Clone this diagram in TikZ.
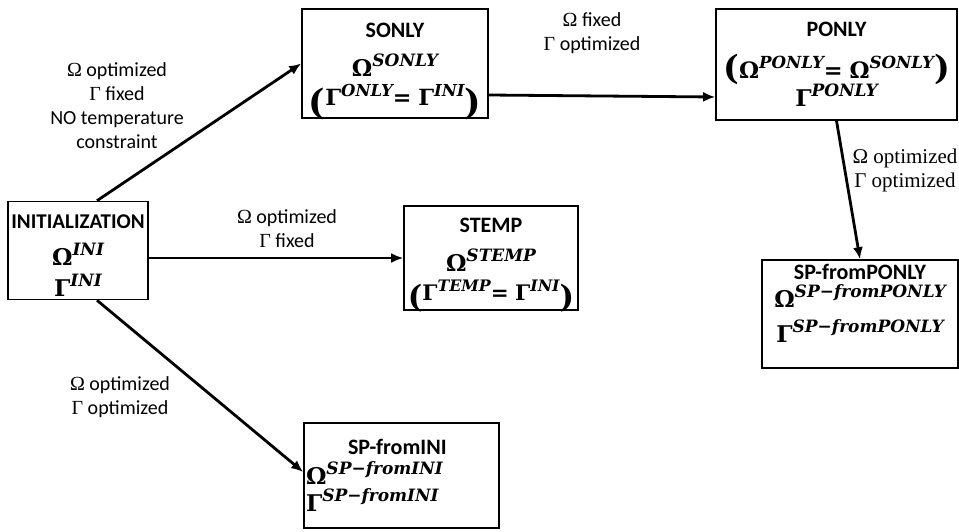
\documentclass[tikz,border=0pt]{standalone}
\usepackage{fontspec}
\setmainfont{Carlito}
\newfontfamily\symfont{Liberation Serif}
\newfontfamily\eqfont{DejaVu Serif}
\usetikzlibrary{arrows.meta,positioning,calc}
\usepackage{xcolor}
\definecolor{dark}{HTML}{000000}
\newcommand\gsym[2]{{\fontsize{23}{23}\selectfont\eqfont\bfseries #1}\raisebox{10pt}{\fontsize{17}{17}\selectfont\eqfont\bfseries\itshape #2}}
\newcommand\eqsym{{\fontsize{23}{23}\selectfont\eqfont\bfseries=\hspace{7pt}}}
\newcommand\paren[3]{\raisebox{-#2}[0pt][0pt]{\fontsize{#1}{#1}\selectfont\eqfont(}#3\raisebox{-#2}[0pt][0pt]{\fontsize{#1}{#1}\selectfont\eqfont)}}
\newcommand\upstrut[1]{\rule{0pt}{#1}}
\newcommand\downstrut[1]{\rule[-#1]{0pt}{#1}}
\tikzset{
  box/.style={draw=dark, line width=1.6pt, align=center, inner sep=0pt, font=\fontsize{22}{31}\selectfont\bfseries},
  lbl/.style={align=center, font=\fontsize{20}{24}\selectfont},
  arrow/.style={-{Latex[length=12pt,width=10pt]}, line width=2.8pt, draw=dark}
}
\begin{document}
\begin{tikzpicture}[x=1pt, y=-1pt]
  \useasboundingbox (0,0) rectangle (959,532);
  \node[box, minimum width=140pt, minimum height=98pt] (init) at (78,250.5) {\upstrut{24pt}{\fontsize{21}{31}\selectfont INITIALIZATION}\\[6pt] \gsym{Ω}{INI}\\ \gsym{Γ}{INI}};
  \node[box, minimum width=186pt, minimum height=109pt] (sonly) at (395,63.5) {\upstrut{17pt}SONLY\\[8pt] \gsym{Ω}{SONLY}\\[-2pt] \scalebox{0.97}{\paren{36pt}{9pt}{\gsym{Γ}{ONLY}\eqsym\gsym{Γ}{INI}}}};
  \node[box, minimum width=241pt, minimum height=111pt] (ponly) at (836.5,64.5) {PONLY\\[11pt] \scalebox{0.98}{\paren{34pt}{1pt}{\gsym{Ω}{PONLY}\eqsym\gsym{Ω}{SONLY}}}\\[-3pt] \gsym{Γ}{PONLY}};
  \node[box, minimum width=174pt, minimum height=104pt] (stemp) at (491,258) {\upstrut{17pt}STEMP\\[8pt] \gsym{Ω}{STEMP}\\[-2pt] \scalebox{0.93}{\paren{33pt}{7pt}{\gsym{Γ}{TEMP}\eqsym\gsym{Γ}{INI}}}};
  \node[box, minimum width=196pt, minimum height=108pt] (sppon) at (860,314) {SP-fromPONLY\\[-3pt] \gsym{Ω}{SP−fromPONLY}\\[4pt] \gsym{Γ}{SP−fromPONLY}\downstrut{21pt}};
  \node[box, align=left, text width=191pt, inner xsep=2pt, minimum height=105pt] (spini) at (401.5,475.5) {\hspace*{42pt}SP-fromINI\\[-1pt] \gsym{Ω}{SP−fromINI}\\[-4pt] \gsym{Γ}{SP−fromINI}};
  \node[lbl] (lsonly) at (117,106) {{\symfont Ω} optimized\\{\symfont Γ} fixed\\NO temperature\\constraint};
  \node[lbl] (lponly) at (592,33) {{\symfont Ω} fixed\\{\symfont Γ} optimized};
  \node[lbl] (lstemp) at (287,229) {{\symfont Ω} optimized\\{\symfont Γ} fixed};
  \node[lbl] (lspini) at (120,397) {{\symfont Ω} optimized\\{\symfont Γ} optimized};
  \node[lbl, font=\fontsize{21}{24}\selectfont\symfont] (lsppon) at (905,170) {Ω optimized\\Γ optimized};
  \draw[arrow] ([xshift=19pt]init.north) -- (sonly.west);
  \draw[arrow] ([yshift=-31.5pt]sonly.east) -- ([yshift=-32.5pt]ponly.west);
  \draw[arrow] (init.east |- stemp.west) -- (stemp.west);
  \draw[arrow] (ponly.south) -- (sppon.north);
  \draw[arrow] ([xshift=19pt]init.south) -- ([yshift=3.5pt]spini.west);
\end{tikzpicture}
\end{document}
